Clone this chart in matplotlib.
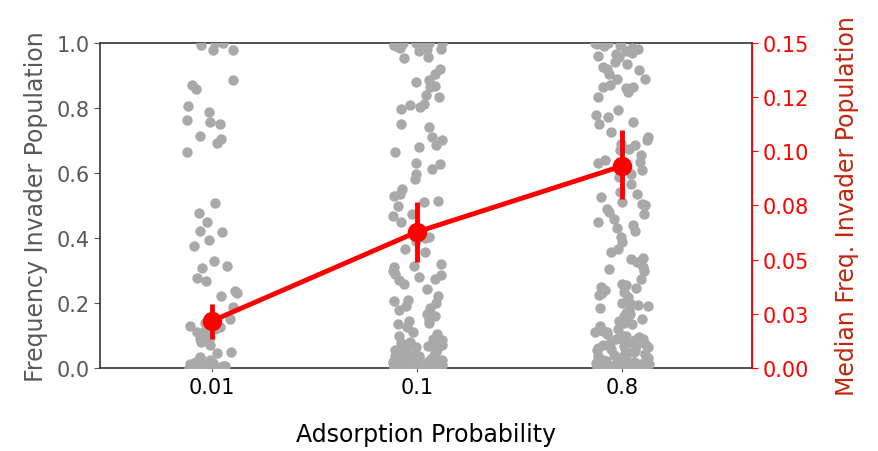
import numpy as np
import pandas as pd
import matplotlib
matplotlib.use("Agg")
import matplotlib.pyplot as plt
import seaborn as sns

plt.rcParams['font.family'] = ['DejaVu Sans']

categories = ['0.01', '0.1', '0.8']

# invader frequency per replicate
freq_001 = [
    1.0, 1.0, 0.995, 0.978, 0.978, 0.886, 0.87, 0.858, 0.806, 0.788,
    0.763, 0.757, 0.751, 0.714, 0.705, 0.692, 0.665, 0.508, 0.477, 0.449,
    0.422, 0.418, 0.394, 0.375, 0.33, 0.314, 0.308, 0.277, 0.268, 0.237,
    0.231, 0.222, 0.188, 0.15, 0.14, 0.13, 0.125, 0.12, 0.115, 0.11,
    0.10, 0.095, 0.09, 0.08, 0.07, 0.05, 0.045, 0.035, 0.03, 0.025,
    0.02, 0.018, 0.015, 0.012, 0.01, 0.008, 0.006, 0.005, 0.004, 0.003,
    0.002, 0.002, 0.001, 0.001, 0.0, 0.0, 0.0, 0.0,
]
freq_01 = [
    1.0, 1.0, 1.0, 1.0, 1.0, 1.0, 0.995, 0.995, 0.995, 0.995,
    0.99, 0.99, 0.99, 0.985, 0.985, 0.98, 0.98, 0.975, 0.957, 0.955,
    0.92, 0.905, 0.886, 0.88, 0.868, 0.865, 0.84, 0.834, 0.812, 0.809,
    0.803, 0.797, 0.751, 0.742, 0.711, 0.702, 0.686, 0.68, 0.665, 0.631,
    0.628, 0.612, 0.597, 0.582, 0.551, 0.535, 0.529, 0.515, 0.51, 0.498,
    0.474, 0.468, 0.449, 0.403, 0.4, 0.391, 0.366, 0.357, 0.32, 0.315,
    0.31, 0.30, 0.29, 0.285, 0.28, 0.275, 0.27, 0.258, 0.243, 0.222,
    0.21, 0.205, 0.2, 0.19, 0.185, 0.18, 0.166, 0.16, 0.15, 0.145,
    0.14, 0.135, 0.126, 0.11, 0.105, 0.1, 0.095, 0.09, 0.085, 0.08,
    0.078, 0.075, 0.072, 0.07, 0.068, 0.065, 0.062, 0.06, 0.058, 0.055,
    0.052, 0.05, 0.048, 0.045, 0.043, 0.04, 0.038, 0.036, 0.034, 0.032,
    0.03, 0.028, 0.026, 0.025, 0.023, 0.021, 0.02, 0.018, 0.017, 0.015,
    0.014, 0.013, 0.012, 0.011, 0.01, 0.009, 0.008, 0.007, 0.006, 0.006,
    0.005, 0.005, 0.004, 0.004, 0.003, 0.003, 0.002, 0.002, 0.002, 0.001,
    0.001, 0.001, 0.0, 0.0, 0.0, 0.0, 0.0, 0.0,
]
freq_08 = [
    1.0, 1.0, 1.0, 0.997, 0.995, 0.99, 0.985, 0.98, 0.975, 0.97,
    0.965, 0.96, 0.957, 0.94, 0.935, 0.925, 0.92, 0.917, 0.905, 0.89,
    0.888, 0.87, 0.865, 0.865, 0.862, 0.85, 0.834, 0.794, 0.778, 0.772,
    0.757, 0.75, 0.726, 0.711, 0.70, 0.69, 0.685, 0.675, 0.67, 0.655,
    0.64, 0.635, 0.63, 0.61, 0.597, 0.588, 0.566, 0.54, 0.535, 0.526,
    0.51, 0.505, 0.5, 0.49, 0.48, 0.474, 0.458, 0.45, 0.44, 0.43,
    0.42, 0.403, 0.388, 0.366, 0.357, 0.34, 0.335, 0.326, 0.31, 0.305,
    0.30, 0.274, 0.26, 0.255, 0.25, 0.245, 0.24, 0.235, 0.23, 0.225,
    0.22, 0.2, 0.198, 0.195, 0.19, 0.185, 0.18, 0.17, 0.165, 0.16,
    0.155, 0.15, 0.145, 0.14, 0.135, 0.13, 0.12, 0.118, 0.115, 0.112,
    0.11, 0.105, 0.1, 0.098, 0.095, 0.092, 0.09, 0.088, 0.085, 0.082,
    0.08, 0.078, 0.075, 0.072, 0.07, 0.068, 0.065, 0.062, 0.06, 0.058,
    0.055, 0.052, 0.05, 0.048, 0.045, 0.043, 0.04, 0.038, 0.036, 0.034,
    0.032, 0.03, 0.028, 0.026, 0.025, 0.023, 0.021, 0.02, 0.018, 0.017,
    0.015, 0.014, 0.013, 0.012, 0.011, 0.01, 0.009, 0.008, 0.007, 0.006,
    0.005, 0.005, 0.004, 0.004, 0.003, 0.003, 0.002, 0.002, 0.001, 0.001,
    0.0, 0.0, 0.0, 0.0,
]

# medians with their interval (right axis)
median_freq = [0.0217, 0.0628, 0.0932]
median_low = [0.0134, 0.0489, 0.078]
median_high = [0.0295, 0.0766, 0.1098]
right_ticks = [0.0, 0.025, 0.05, 0.075, 0.1, 0.125, 0.15]
right_ticklabels = ['0.00', '0.03', '0.05', '0.08', '0.10', '0.12', '0.15']

df = pd.DataFrame({
    'prob': [categories[0]] * len(freq_001) + [categories[1]] * len(freq_01)
            + [categories[2]] * len(freq_08),
    'freq': freq_001 + freq_01 + freq_08,
})

fig, ax = plt.subplots(figsize=(8.79, 4.52), dpi=100)
fig.subplots_adjust(left=0.1138, right=0.8555, top=0.9027, bottom=0.1836)

np.random.seed(3)
sns.stripplot(data=df, x='prob', y='freq', order=categories, color='#a9a9a9',
              size=7.5, jitter=0.13, linewidth=0, ax=ax)
ax.set_xlim(-0.546, 2.634)
ax.set_ylim(0, 1.0)
ax.set_yticks([0, 0.2, 0.4, 0.6, 0.8, 1.0])
ax.set_xlabel('Adsorption Probability', fontsize=17, labelpad=18)
ax.set_ylabel('Frequency Invader Population', fontsize=17, color='#595959', labelpad=6)
ax.tick_params(axis='y', labelsize=15, colors='#595959', length=4)
ax.tick_params(axis='x', labelsize=15, colors='#595959', labelcolor='black', length=3)
for s in ['left', 'top', 'bottom', 'right']:
    ax.spines[s].set_color('#333333')
    ax.spines[s].set_linewidth(1.2)

ax2 = ax.twinx()
xpos = np.arange(len(categories))
med = np.array(median_freq)
err = [med - np.array(median_low), np.array(median_high) - med]
ax2.errorbar(xpos, med, yerr=err, color='red', marker='o', markersize=13,
             linewidth=3.5, elinewidth=3.5, capsize=0, zorder=5)
ax2.set_ylim(0, 0.15)
ax2.set_yticks(right_ticks)
ax2.set_yticklabels(right_ticklabels)
ax2.tick_params(axis='y', labelsize=15, colors='red', length=4)
ax2.set_ylabel('Median Freq. Invader Population', fontsize=17, color='#c4250c', labelpad=19)
ax2.spines['right'].set_color('red')
ax2.spines['right'].set_linewidth(1.0)
for s in ['left', 'top', 'bottom']:
    ax2.spines[s].set_visible(False)

plt.savefig('out.png', dpi=100)
